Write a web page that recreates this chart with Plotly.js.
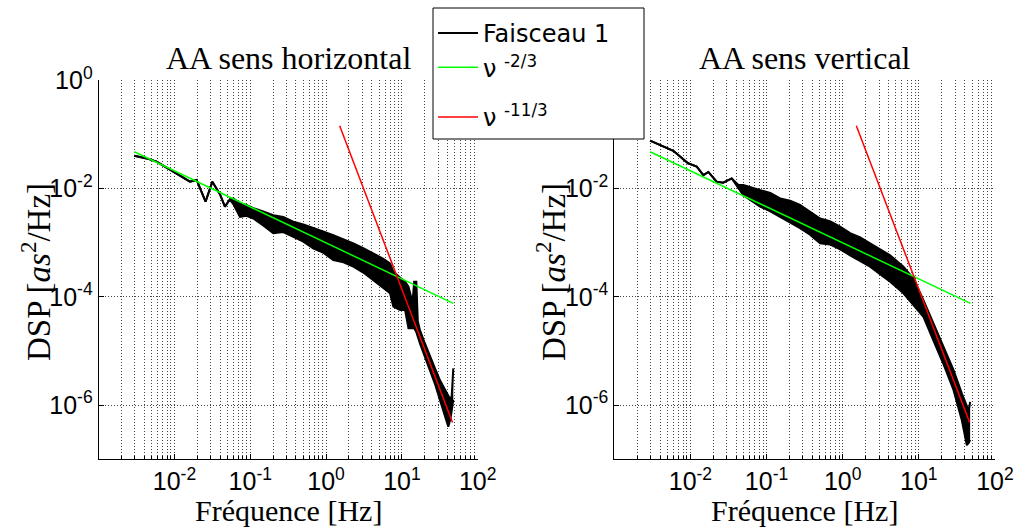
<!DOCTYPE html>
<html>
<head>
<meta charset="utf-8">
<script src="https://cdn.plot.ly/plotly-3.0.1.min.js"></script>
<style>html,body{margin:0;padding:0;background:#fff;}#chart{width:1016px;height:532px;}</style>
</head>
<body>
<div id="chart"></div>
<script>
// ---- Data ----
// Left panel: "AA sens horizontal"
const freqLeft = [0.00295,0.0043,0.00582,0.00964,0.01245,0.0160,0.0196,0.0217,0.0257,0.0316,0.0398,0.0463,0.0537,0.0597,0.0731,0.0891,0.1096,0.148,0.201,0.272,0.369,0.501,0.676,0.912,1.245,1.70,2.29,3.09,4.20,5.62,6.97,7.71,9.44,11.0,12.2,13.8,14.5,15.5,16.2,17.3,20.0,23.5,27.5,31.8,36.3,39.0,40.9,43.7,45.4,47.6];
const psdLeftUpper = [4.07e-2,3.63e-2,3.16e-2,2.04e-2,1.66e-2,1.35e-2,1.45e-2,1.02e-2,5.75e-3,1.35e-2,7.94e-3,4.68e-3,6.31e-3,6.61e-3,5.37e-3,5.01e-3,4.37e-3,3.80e-3,3.24e-3,3.02e-3,2.45e-3,2.19e-3,1.86e-3,1.62e-3,1.38e-3,1.17e-3,9.77e-4,7.94e-4,6.46e-4,5.13e-4,4.17e-4,2.95e-4,2.29e-4,1.91e-4,1.55e-4,7.94e-5,1.91e-4,1.91e-4,3.55e-5,2.45e-5,1.41e-5,7.76e-6,4.68e-6,2.88e-6,2.00e-6,1.66e-6,1.41e-6,1.26e-6,1.5e-6,4.79e-6];
const psdLeftLower = [4.07e-2,3.63e-2,3.16e-2,2.04e-2,1.66e-2,1.35e-2,1.45e-2,1.02e-2,5.75e-3,1.35e-2,7.94e-3,4.68e-3,6.31e-3,5.2e-3,3.02e-3,3.16e-3,2.82e-3,2.09e-3,1.51e-3,1.58e-3,1.29e-3,1.05e-3,7.94e-4,6.61e-4,4.79e-4,4.37e-4,3.63e-4,2.82e-4,2.04e-4,1.45e-4,1.17e-4,6.61e-5,5.75e-5,5.75e-5,2.63e-5,2.63e-5,2.63e-5,2.24e-5,1.78e-5,1.38e-5,7.94e-6,4.47e-6,2.40e-6,1.23e-6,7.08e-7,4.90e-7,3.98e-7,5.62e-7,7.94e-7,1.26e-6];

// Right panel: "AA sens vertical"
const freqRight = [0.00295,0.0042,0.00596,0.00933,0.0121,0.0148,0.0172,0.0221,0.0269,0.0349,0.0427,0.0495,0.0631,0.0822,0.112,0.151,0.204,0.275,0.372,0.505,0.679,0.925,1.25,1.70,2.29,3.09,4.20,6.28,8.51,11.5,15.5,20.9,28.5,36.7,42.7,45.2,47.2];
const psdRightUpper = [7.76e-2,6.24e-2,5.01e-2,2.95e-2,2.57e-2,1.78e-2,2.04e-2,1.35e-2,1.29e-2,1.55e-2,1.17e-2,1.17e-2,1.05e-2,9.55e-3,8.32e-3,6.61e-3,6.03e-3,5.01e-3,3.80e-3,2.82e-3,2.51e-3,2.00e-3,1.51e-3,1.26e-3,9.77e-4,7.59e-4,5.89e-4,3.63e-4,2.19e-4,8.71e-5,3.24e-5,1.20e-5,4.47e-6,1.66e-6,9.33e-7,7.94e-7,1.15e-6];
const psdRightLower = [7.76e-2,6.24e-2,5.01e-2,2.95e-2,2.57e-2,1.78e-2,2.04e-2,1.35e-2,1.29e-2,1.55e-2,1.05e-2,7.59e-3,6.03e-3,4.68e-3,3.80e-3,3.02e-3,2.40e-3,1.86e-3,1.41e-3,9.77e-4,9.33e-4,7.59e-4,5.89e-4,4.68e-4,3.63e-4,2.63e-4,1.91e-4,1.17e-4,7.08e-5,4.27e-5,1.58e-5,5.89e-6,1.91e-6,5.25e-7,1.82e-7,2.00e-7,2.29e-7];

// Reference slopes (same in both panels)
const slope23Freq = [0.00295, 47.6];
const slope23Psd = [4.83e-2, 7.62e-5];
const slope113Freq = [1.51, 46.5];
const slope113Psd = [1.46e-1, 4.8e-7];

// Series names and titles
const seriesNames = ['Faisceau 1', '\u03bd <sup>-2/3</sup>', '\u03bd <sup>-11/3</sup>'];
const panelTitles = ['AA sens horizontal', 'AA sens vertical'];
const xTitle = 'Fr\u00e9quence [Hz]';
const yTitle = 'DSP [<i>as</i><sup>2</sup>/Hz]';

// Tick positions and labels
const xMajorVals = [0.001, 0.01, 0.1, 1, 10, 100];
const xMajorText = ['', '10<sup>-2</sup>','10<sup>-1</sup>','10<sup>0</sup>','10<sup>1</sup>','10<sup>2</sup>'];
const xMinorVals = [0.002,0.003,0.004,0.005,0.006,0.007,0.008,0.009,
  0.02,0.03,0.04,0.05,0.06,0.07,0.08,0.09,
  0.2,0.3,0.4,0.5,0.6,0.7,0.8,0.9,
  2,3,4,5,6,7,8,9,
  20,30,40,50,60,70,80,90];
const yTickVals = [1e-6, 1e-4, 1e-2, 1];
const yTickText = ['10<sup>-6</sup>','10<sup>-4</sup>','10<sup>-2</sup>','10<sup>0</sup>'];

const BLACK = '#000000', GREEN = '#00ff00', RED = '#ff0000';

function panelTraces(freq, up, lo, xa, ya, legend) {
  return [
    {x: freq, y: up, xaxis: xa, yaxis: ya, type: 'scatter', mode: 'lines',
     line: {color: BLACK, width: 2}, name: seriesNames[0], showlegend: legend, legendgroup: 'g1'},
    {x: freq, y: lo, xaxis: xa, yaxis: ya, type: 'scatter', mode: 'lines', fill: 'tonexty',
     fillcolor: BLACK, line: {color: BLACK, width: 2}, showlegend: false, legendgroup: 'g1', hoverinfo: 'skip'},
    {x: slope23Freq, y: slope23Psd, xaxis: xa, yaxis: ya, type: 'scatter', mode: 'lines',
     line: {color: GREEN, width: 1.5}, name: seriesNames[1], showlegend: legend, legendgroup: 'g2'},
    {x: slope113Freq, y: slope113Psd, xaxis: xa, yaxis: ya, type: 'scatter', mode: 'lines',
     line: {color: RED, width: 1.5}, name: seriesNames[2], showlegend: legend, legendgroup: 'g3',
     legend: 'legend2'}
  ];
}

const data = [].concat(
  panelTraces(freqLeft, psdLeftUpper, psdLeftLower, 'x', 'y', true),
  panelTraces(freqRight, psdRightUpper, psdRightLower, 'x2', 'y2', false)
);

const tickFont = () => ({family: 'Liberation Sans, Arial, sans-serif', size: 25, color: '#000'});
const gridDash = '1px,2px';
const gridColor = '#444';

function xAxis(domain, anchor) {
  return {
    domain: domain, anchor: anchor, type: 'log', range: [-3, 2],
    tickmode: 'array', tickvals: xMajorVals, ticktext: xMajorText, tickformat: '.0e',
    ticks: 'inside', ticklen: 5, tickcolor: '#000', tickwidth: 1,
    showline: true, linecolor: '#000', linewidth: 1, mirror: false,
    showgrid: true, gridcolor: gridColor, griddash: gridDash, gridwidth: 1,
    minor: {tickmode: 'array', tickvals: xMinorVals, ticks: 'inside', ticklen: 3, tickcolor: '#000',
            showgrid: true, gridcolor: gridColor, griddash: gridDash, gridwidth: 1},
    tickfont: tickFont(), ticklabeloverflow: 'allow', fixedrange: true
  };
}
function yAxis(anchor) {
  return {
    domain: [0.1367, 0.8487], anchor: anchor, type: 'log', range: [-7, 0],
    tickmode: 'array', tickvals: yTickVals, ticktext: yTickText, tickformat: '.0e',
    ticks: 'inside', ticklen: 5, tickcolor: '#000', tickwidth: 1,
    showline: true, linecolor: '#000', linewidth: 1, mirror: false,
    showgrid: true, gridcolor: gridColor, griddash: gridDash, gridwidth: 1,
    tickfont: tickFont(), ticklabeloverflow: 'allow', fixedrange: true
  };
}

const serif = (s) => ({family: 'Liberation Serif, Times New Roman, serif', size: s, color: '#000'});

const annotations = [
  {text: panelTitles[0], xref: 'paper', yref: 'paper', x: 0.2836, y: 0.891, xanchor: 'center', yanchor: 'middle', showarrow: false, font: serif(32)},
  {text: panelTitles[1], xref: 'paper', yref: 'paper', x: 0.792, y: 0.891, xanchor: 'center', yanchor: 'middle', showarrow: false, font: serif(32)},
  {text: xTitle, xref: 'paper', yref: 'paper', x: 0.2836, y: 1 - 510/532, xanchor: 'center', yanchor: 'middle', showarrow: false, font: serif(30)},
  {text: xTitle, xref: 'paper', yref: 'paper', x: 0.792, y: 1 - 510/532, xanchor: 'center', yanchor: 'middle', showarrow: false, font: serif(30)},
  {text: yTitle, xref: 'paper', yref: 'paper', x: 36/1016, y: 1 - 272/532, xanchor: 'center', yanchor: 'middle', textangle: -90, showarrow: false, font: serif(33)},
  {text: yTitle, xref: 'paper', yref: 'paper', x: 551/1016, y: 1 - 272/532, xanchor: 'center', yanchor: 'middle', textangle: -90, showarrow: false, font: serif(33)}
];

// Legend frame (drawn as a shape so its size matches the reference box)
const shapes = [
  {type: 'rect', xref: 'paper', yref: 'paper', x0: 433/1016, x1: 644/1016, y0: 1 - 139/532, y1: 1 - 8/532,
   fillcolor: '#ffffff', line: {color: '#000', width: 1}, layer: 'above'}
];

const legendFont = {family: 'DejaVu Sans, sans-serif', size: 24, color: '#000'};

const layout = {
  width: 1016, height: 532,
  margin: {l: 0, r: 0, t: 0, b: 0},
  paper_bgcolor: '#fff', plot_bgcolor: '#fff',
  showlegend: true,
  legend: {
    x: 433/1016, y: 1 - 11/532, xanchor: 'left', yanchor: 'top',
    bgcolor: 'rgba(0,0,0,0)', borderwidth: 0, font: legendFont,
    traceorder: 'normal', tracegroupgap: 16, itemwidth: 40
  },
  legend2: {
    x: 433/1016, y: 1 - 95/532, xanchor: 'left', yanchor: 'top',
    bgcolor: 'rgba(0,0,0,0)', borderwidth: 0, font: legendFont,
    traceorder: 'normal', itemwidth: 40
  },
  xaxis: xAxis([0.0971, 0.4702], 'y'),
  yaxis: yAxis('x'),
  xaxis2: xAxis([0.6046, 0.9793], 'y2'),
  yaxis2: yAxis('x2'),
  shapes: shapes,
  annotations: annotations
};

Plotly.newPlot('chart', data, layout, {displayModeBar: false, staticPlot: true});
</script>
</body>
</html>
